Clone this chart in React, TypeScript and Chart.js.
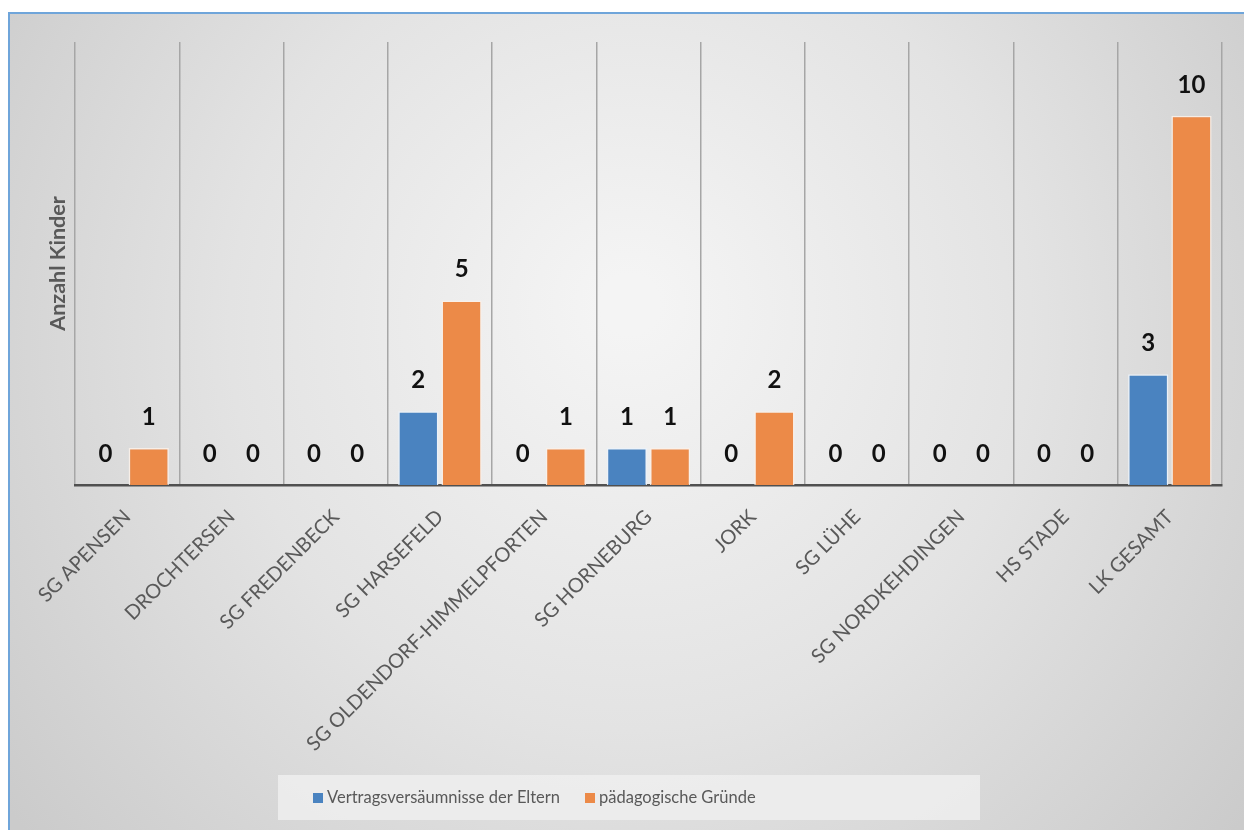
import React, { useEffect, useRef } from "react";
import { Chart, registerables } from "chart.js";

Chart.register(...registerables);

const categories = [
  "SG APENSEN",
  "DROCHTERSEN",
  "SG FREDENBECK",
  "SG HARSEFELD",
  "SG OLDENDORF-HIMMELPFORTEN",
  "SG HORNEBURG",
  "JORK",
  "SG LÜHE",
  "SG NORDKEHDINGEN",
  "HS STADE",
  "LK GESAMT",
];
const seriesNames = ["Vertragsversäumnisse der Eltern", "pädagogische Gründe"];
const elternValues = [0, 0, 0, 2, 0, 1, 0, 0, 0, 0, 3];
const paedValues = [1, 0, 0, 5, 1, 1, 2, 0, 0, 0, 10];
const yAxisTitle = "Anzahl Kinder";

const BLUE = "#4a83c0";
const ORANGE = "#ec8a48";
const FONT = "Lato, 'Open Sans', sans-serif";

const W = 1244;
const H = 822;

const decorPlugin = {
  id: "decor",
  beforeDraw(chart: any) {
    const ctx = chart.ctx as CanvasRenderingContext2D;
    ctx.save();
    const g = ctx.createRadialGradient(W * 0.5, H * 0.36, 30, W * 0.5, H * 0.42, W * 0.62);
    g.addColorStop(0, "#f4f4f4");
    g.addColorStop(0.5, "#e3e3e3");
    g.addColorStop(1, "#cbcbcb");
    ctx.fillStyle = g;
    ctx.fillRect(1, 4, 1238, H - 4);
    ctx.strokeStyle = "#6fa5da";
    ctx.lineWidth = 2;
    ctx.strokeRect(1, 5, 1238, H + 4);

    // y axis title
    const ca = chart.chartArea;
    ctx.translate(50, (ca.top + ca.bottom) / 2);
    ctx.rotate(-Math.PI / 2);
    ctx.fillStyle = "#595959";
    ctx.font = `bold 21.5px ${FONT}`;
    ctx.textAlign = "center";
    ctx.textBaseline = "middle";
    ctx.fillText(yAxisTitle, 0, 0);
    ctx.restore();

    // legend
    ctx.save();
    ctx.fillStyle = "rgba(238,238,238,0.85)";
    ctx.fillRect(270, 767, 702, 45);
    ctx.font = `16.5px ${FONT}`;
    ctx.textBaseline = "middle";
    const colors = [BLUE, ORANGE];
    const xs = [305, 577];
    const ly = 790;
    seriesNames.forEach((n, i) => {
      ctx.fillStyle = colors[i];
      ctx.fillRect(xs[i], ly - 5, 10, 10);
      ctx.fillStyle = "#595959";
      ctx.fillText(n, xs[i] + 14, ly);
    });
    ctx.restore();
  },
  afterDatasetsDraw(chart: any) {
    const ctx = chart.ctx as CanvasRenderingContext2D;
    ctx.save();
    ctx.font = `bold 24px ${FONT}`;
    ctx.fillStyle = "#111111";
    ctx.textAlign = "center";
    ctx.textBaseline = "middle";
    chart.data.datasets.forEach((ds: any, di: number) => {
      const meta = chart.getDatasetMeta(di);
      meta.data.forEach((bar: any, i: number) => {
        ctx.fillText(String(ds.data[i]), bar.x, bar.y - 31);
      });
    });
    ctx.restore();
  },
};

export default function App() {
  const ref = useRef<HTMLCanvasElement | null>(null);
  useEffect(() => {
    if (!ref.current) return;
    const chart = new Chart(ref.current, {
      type: "bar",
      data: {
        labels: categories,
        datasets: [
          {
            label: seriesNames[0],
            data: elternValues,
            backgroundColor: BLUE,
            borderColor: "rgba(235,242,250,0.9)",
            borderWidth: 1.5,
            categoryPercentage: 0.83,
            barPercentage: 0.93,
          },
          {
            label: seriesNames[1],
            data: paedValues,
            backgroundColor: ORANGE,
            borderColor: "rgba(250,240,232,0.9)",
            borderWidth: 1.5,
            categoryPercentage: 0.83,
            barPercentage: 0.93,
          },
        ],
      },
      options: {
        responsive: false,
        animation: false,
        maintainAspectRatio: false,
        layout: { padding: { left: 67, right: 30, top: 34, bottom: 0 } },
        plugins: {
          legend: { display: false },
          tooltip: { enabled: false },
        },
        scales: {
          x: {
            offset: true,
            grid: {
              offset: true,
              drawTicks: false,
              color: (c: any) => (c.index === categories.length ? "rgba(0,0,0,0)" : "#a6a6a6"),
              lineWidth: 1.5,
            },
            border: { display: true, color: "#505050", width: 2.5 },
            ticks: {
              autoSkip: false,
              maxRotation: 45,
              minRotation: 45,
              padding: 20,
              color: "#595959",
              font: { family: FONT, size: 20 },
            },
            afterFit: (s: any) => {
              s.height = 345;
            },
          },
          y: {
            display: false,
            min: 0,
            max: 12,
          },
        },
      },
      plugins: [decorPlugin],
    });
    return () => chart.destroy();
  }, []);
  return (
    <div style={{ width: W, height: H }}>
      <canvas ref={ref} width={W} height={H} style={{ display: "block", width: W, height: H }} />
    </div>
  );
}
